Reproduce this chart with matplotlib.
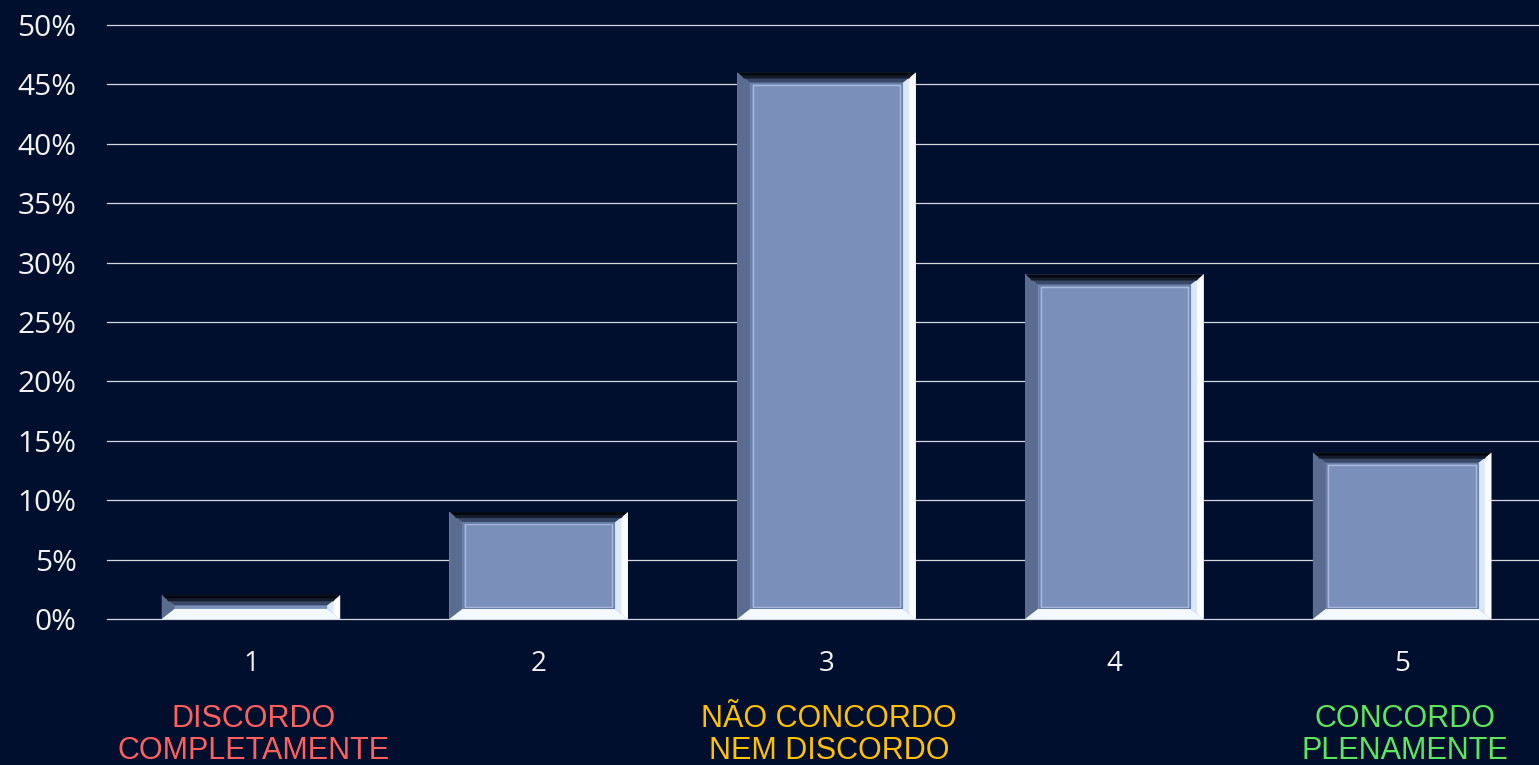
import matplotlib
matplotlib.use('Agg')
from matplotlib import pyplot as plt
from matplotlib.patches import Polygon, Rectangle
import numpy as np

# data
categories = ['1', '2', '3', '4', '5']
values = [0.02, 0.09, 0.46, 0.29, 0.14]
yticks = [0, 0.05, 0.10, 0.15, 0.20, 0.25, 0.30, 0.35, 0.40, 0.45, 0.50]
ytick_labels = ['0%', '5%', '10%', '15%', '20%', '25%', '30%', '35%', '40%', '45%', '50%']
scale_notes = {0: 'DISCORDO\nCOMPLETAMENTE', 2: 'NÃO CONCORDO\nNEM DISCORDO', 4: 'CONCORDO\nPLENAMENTE'}
note_colors = {0: '#FF5F5F', 2: '#FFC000', 4: '#5CE65C'}

bg = '#000F2D'
face = '#7A90BA'
bar_w = 0.62

fig = plt.figure(figsize=(15.39, 7.65), dpi=100)
fig.patch.set_facecolor(bg)
ax = fig.add_axes([107/1539, 146/765, 1439/1539, 594/765])
ax.set_facecolor(bg)

x = np.arange(len(categories))
ax.set_xlim(-0.5, len(categories) - 0.5)
ax.set_ylim(0, 0.5)

# gridlines
for t in yticks:
    ax.axhline(t, color='#D4D8DE', lw=0.9, zorder=1, clip_on=False)

bars = ax.bar(x, values, bar_w, color=face, zorder=2, linewidth=0)

# bevel sizes (data units)
dx = 0.045
dy = 0.0085
for b in bars:
    l = b.get_x()
    r = l + b.get_width()
    h = b.get_height()
    ey = min(dy, h / 2)
    # left side (shaded)
    ax.add_patch(Polygon([(l, 0), (l, h), (l + dx, h - ey), (l + dx, ey)],
                         closed=True, color='#5A6C90', lw=0, zorder=3))
    # right side (lit)
    ax.add_patch(Polygon([(r, 0), (r, h), (r - dx, h - ey), (r - dx, ey)],
                         closed=True, color='#D8E8FF', lw=0, zorder=3))
    ax.add_patch(Polygon([(r, 0), (r, h), (r - dx * 0.5, h - ey * 0.5), (r - dx * 0.5, ey * 0.5)],
                         closed=True, color='#FAFCFF', lw=0, zorder=3))
    # bottom (lit)
    ax.add_patch(Polygon([(l, 0), (r, 0), (r - dx, ey), (l + dx, ey)],
                         closed=True, color='#F4F8FF', lw=0, zorder=3))
    # top (dark shadow)
    ax.add_patch(Polygon([(l, h), (r, h), (r - dx, h - ey), (l + dx, h - ey)],
                         closed=True, color='#3A4868', lw=0, zorder=3))
    ax.add_patch(Polygon([(l + dx * 0.15, h), (r - dx * 0.15, h), (r - dx * 0.5, h - ey * 0.6), (l + dx * 0.5, h - ey * 0.6)],
                         closed=True, color='#151C2C', lw=0, zorder=3))
    ax.add_patch(Polygon([(l + dx * 0.05, h), (r - dx * 0.05, h), (r - dx * 0.3, h - ey * 0.3), (l + dx * 0.3, h - ey * 0.3)],
                         closed=True, color='#05080F', lw=0, zorder=3))
    # inner frame
    if h > 3 * dy:
        ax.add_patch(Rectangle((l + dx * 1.2, ey * 1.2), (r - l) - dx * 2.4, h - ey * 2.4,
                               fill=False, edgecolor='#A9BBDD', lw=1.0, zorder=3))
        ax.add_patch(Rectangle((l + dx * 1.05, ey * 1.05), (r - l) - dx * 2.1, h - ey * 2.1,
                               fill=False, edgecolor='#6A7FA8', lw=0.8, zorder=3))

for s in ax.spines.values():
    s.set_visible(False)

ax.set_xticks(x)
ax.set_xticklabels(categories)
ax.set_yticks(yticks)
ax.set_yticklabels(ytick_labels)
ax.tick_params(axis='both', length=0, colors='#F2F2F2', labelsize=20)
ax.tick_params(axis='y', labelsize=21.5, pad=22)
ax.tick_params(axis='x', pad=22)
for lab in ax.get_xticklabels() + ax.get_yticklabels():
    lab.set_fontfamily('Open Sans')

for i, txt in scale_notes.items():
    ax.annotate(txt, xy=(x[i], 0), xycoords=('data', 'axes fraction'),
                xytext=(2, -61), textcoords='offset points',
                ha='center', va='top', fontsize=22, family='Liberation Sans',
                color=note_colors[i], linespacing=1.12, annotation_clip=False)

fig.savefig('out.png', dpi=100, facecolor=bg)
